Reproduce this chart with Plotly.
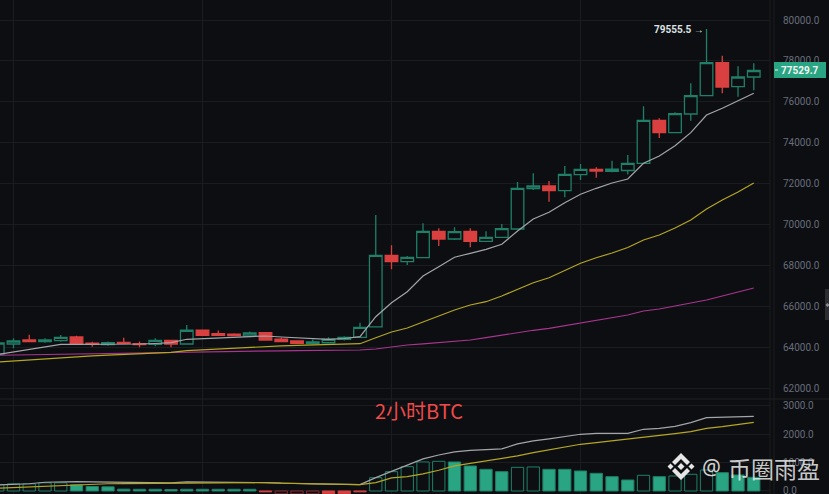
import plotly.graph_objects as go
from plotly.subplots import make_subplots

W, H = 829, 494

BG = "#0d0e11"
GRID = "#1a1c1f"
GREEN = "#1f7f68"
GREEN_FILL = "#2aa583"
RED = "#d9403f"
RED_DARK = "#8a2c2d"
AXIS_TEXT = "#676d7c"

# price candles
opens = [63660, 64153, 64349, 64267, 64315, 64496, 64190, 64120, 64235, 64170,
         64140, 64335, 64153, 64825, 64660, 64630, 64545, 64705, 64385, 64300,
         64170, 64215, 64385, 64480, 64990, 68491, 68180, 68374, 69665, 69289,
         69665, 69176, 69372, 69778, 71750, 71881, 71650, 72433, 72698, 72600,
         72640, 72991, 75094, 74488, 75403, 76298, 77912, 76738, 77212]
closes = [64202, 64300, 64267, 64349, 64480, 64153, 64140, 64218, 64190, 64120,
          64335, 64153, 64825, 64580, 64580, 64560, 64690, 64349, 64267, 64190,
          64250, 64385, 64480, 64970, 68491, 68180, 68394, 69665, 69289, 69646,
          69176, 69372, 69793, 71768, 71881, 71650, 72453, 72698, 72615, 72700,
          72990, 75094, 74488, 75417, 76298, 77912, 76723, 77212, 77529.7]
highs = [64202, 64432, 64608, 64432, 64594, 64559, 64267, 64270, 64460, 64280,
         64430, 64335, 65083, 64825, 64810, 64680, 64760, 64705, 64460, 64300,
         64370, 64480, 64530, 65195, 70462, 68981, 68457, 70057, 69812, 69860,
         69812, 69665, 70022, 72077, 72502, 72125, 72859, 72957, 72796, 73120,
         73400, 75779, 75192, 75485, 76904, 79555.5, 78254, 77735, 77882]
lows = [63660, 63943, 64251, 64218, 64267, 64153, 64022, 64070, 64180, 64000,
        64040, 63990, 64153, 64580, 64570, 64540, 64530, 64349, 64267, 64190,
        64130, 64215, 64330, 64480, 64990, 67807, 68017, 68374, 68946, 69240,
        68883, 69176, 69372, 69778, 71685, 71113, 71328, 72175, 72287, 72550,
        72440, 72991, 74229, 74488, 75075, 76298, 76415, 76249, 76562]

ma_white = [63640, 63762, 63909, 64031, 64139, 64139, 64139, 64153, 64153, 64153,
            64178, 64218, 64384, 64423, 64447, 64481, 64520, 64545, 64496, 64447,
            64398, 64384, 64423, 64510, 65489, 66173, 66711, 67479, 67934, 68394,
            68589, 68785, 69030, 69680, 70267, 70594, 71064, 71475, 71768, 72028,
            72223, 72991, 73348, 73852, 74488, 75354, 75681, 76053, 76415]
ma_yellow = [63273, 63322, 63381, 63444, 63503, 63537, 63571, 63606, 63640, 63674,
             63713, 63747, 63826, 63870, 63909, 63948, 63997, 64041, 64061, 64085,
             64104, 64124, 64143, 64168, 64461, 64740, 64936, 65229, 65488, 65816,
             66061, 66222, 66501, 66829, 67151, 67396, 67738, 68100, 68374, 68604,
             68873, 69240, 69484, 69827, 70218, 70756, 71196, 71587, 72028]
ma_magenta = [63601, 63615, 63625, 63640, 63650, 63664, 63679, 63694, 63708, 63723,
              63738, 63747, 63762, 63772, 63782, 63792, 63801, 63811, 63821, 63831,
              63840, 63850, 63855, 63860, 63909, 64007, 64104, 64163, 64217, 64281,
              64349, 64462, 64594, 64726, 64824, 64921, 65058, 65195, 65327, 65449,
              65572, 65767, 65865, 66012, 66158, 66305, 66501, 66696, 66892]

# volume pane; red bars hang below the zero line
volumes = [228, 252, 252, 288, 288, 217, 158, 147, 65, 60,
           60, 50, 60, 60, 60, 60, 60, -30, -100, -100,
           -100, -100, -100, -30, 468, 680, 856, 1021, 1045, 1021,
           880, 763, 680, 833, 845, 763, 763, 704, 622, 504,
           387, 552, 504, 528, 587, 739, 645, 563, 482]
vol_hollow = [0, 1, 2, 3, 4, 24, 25, 26, 27, 28, 33, 34, 41, 43, 44, 45]
vol_red_hollow = [18, 19, 20]
vol_ma_white = [213, 236, 254, 307, 330, 330, 319, 307, 295, 290,
                285, 283, 319, 319, 319, 319, 319, 295, 272, 260,
                248, 240, 232, 225, 471, 682, 893, 1128, 1268, 1374,
                1433, 1456, 1480, 1656, 1761, 1832, 1914, 1996, 2031, 2031,
                2031, 2172, 2207, 2277, 2406, 2582, 2606, 2629, 2629]
vol_ma_yellow = [96, 120, 140, 160, 178, 210, 248, 255, 262, 268,
                 270, 272, 295, 295, 295, 295, 295, 295, 272, 262,
                 250, 240, 232, 225, 295, 460, 506, 600, 729, 881,
                 975, 1057, 1139, 1233, 1351, 1445, 1538, 1644, 1703, 1761,
                 1820, 1879, 1937, 2019, 2090, 2207, 2266, 2348, 2418]

price_ticks = [62000, 64000, 66000, 68000, 70000, 72000, 74000, 76000, 78000, 80000]
vol_ticks = [0, 1000, 2000, 3000]
x_grid = [1, 13, 25, 37, 49]

xs = list(range(len(opens)))


def px(x):
    return x / W


def py(y):
    return 1 - y / H


def diamond_path(cx, cy, r):
    return (f"M {px(cx - r)} {py(cy)} L {px(cx)} {py(cy - r)} "
            f"L {px(cx + r)} {py(cy)} L {px(cx)} {py(cy + r)} Z")


def chevron_path(cx, tip_y, direction):
    # direction -1 = pointing up, 1 = pointing down
    pts = [(cx - 9, tip_y - direction * 9), (cx, tip_y), (cx + 9, tip_y - direction * 9),
           (cx + 6, tip_y - direction * 12), (cx, tip_y - direction * 6), (cx - 6, tip_y - direction * 12)]
    return "M " + " L ".join(f"{px(a)} {py(b)}" for a, b in pts) + " Z"


def label(x, y, text, color, size, family=None, xref="paper", yref="paper", **kw):
    font = dict(color=color, size=size)
    if family:
        font["family"] = family
    fig.add_annotation(xref=xref, yref=yref, x=x, y=y, text=text, showarrow=False,
                       xanchor=kw.pop("xanchor", "center"), yanchor="middle", font=font, **kw)


fig = make_subplots(rows=2, cols=1, shared_xaxes=True, vertical_spacing=0,
                    row_heights=[399 / 494, 95 / 494])

fig.add_trace(go.Candlestick(
    x=xs, open=opens, high=highs, low=lows, close=closes,
    increasing=dict(line=dict(color=GREEN, width=1.3), fillcolor=BG),
    decreasing=dict(line=dict(color=RED, width=1.3), fillcolor=RED),
    whiskerwidth=0,
), row=1, col=1)

fig.add_trace(go.Scatter(x=xs, y=ma_magenta, mode="lines",
                         line=dict(color="#a8358f", width=1.2)), row=1, col=1)
fig.add_trace(go.Scatter(x=xs, y=ma_yellow, mode="lines",
                         line=dict(color="#b5a623", width=1.2)), row=1, col=1)
fig.add_trace(go.Scatter(x=xs, y=ma_white, mode="lines",
                         line=dict(color="#a3a5a8", width=1.2)), row=1, col=1)

# volume bars: filled and hollow in each colour
bar_fill, bar_line = [], []
for i, v in enumerate(volumes):
    if v >= 0:
        bar_line.append(GREEN)
        bar_fill.append(BG if i in vol_hollow else GREEN_FILL)
    else:
        bar_line.append(RED_DARK if i in vol_red_hollow else RED)
        bar_fill.append(BG if i in vol_red_hollow else RED)
fig.add_trace(go.Bar(x=xs, y=volumes, width=0.78,
                     marker=dict(color=bar_fill, line=dict(color=bar_line, width=1))),
              row=2, col=1)
fig.add_trace(go.Scatter(x=xs, y=vol_ma_white, mode="lines",
                         line=dict(color="#a3a5a8", width=1.2)), row=2, col=1)
fig.add_trace(go.Scatter(x=xs, y=vol_ma_yellow, mode="lines",
                         line=dict(color="#b5a623", width=1.2)), row=2, col=1)

fig.update_layout(
    width=W, height=H,
    margin=dict(l=0, r=0, t=0, b=0, autoexpand=False),
    paper_bgcolor=BG, plot_bgcolor=BG,
    showlegend=False,
    boxgap=0.2, boxgroupgap=0,
    xaxis_rangeslider_visible=False,
    font=dict(family="Roboto, Noto Sans, sans-serif", color=AXIS_TEXT, size=10),
)

fig.update_xaxes(range=[0.143, 49.03], tickvals=x_grid, showticklabels=False,
                 showgrid=True, gridcolor=GRID, gridwidth=1, zeroline=False,
                 showline=False, ticks="", domain=[0, 770 / W], rangeslider_visible=False)
fig.update_yaxes(side="right", range=[61463, 80978], tickvals=price_ticks,
                 tickformat=".1f", showgrid=True, gridcolor=GRID, zeroline=False,
                 showline=False, ticks="", ticklabelstandoff=12, row=1, col=1)
fig.update_yaxes(side="right", range=[-106, 3238], tickvals=vol_ticks,
                 tickformat=".1f", showgrid=True, gridcolor=GRID, zeroline=False,
                 showline=False, ticks="", ticklabelstandoff=12,
                 ticklabeloverflow="allow", row=2, col=1)

# pane separators
fig.add_shape(type="line", xref="paper", yref="paper", x0=0, x1=1, y0=py(399), y1=py(399),
              line=dict(color="#1e2023", width=1))
for sep_x in (770, 774):
    fig.add_shape(type="line", xref="paper", yref="paper", x0=px(sep_x), x1=px(sep_x), y0=0, y1=1,
                  line=dict(color="#1a1c1f", width=1))

# last price tag
fig.add_shape(type="rect", xref="paper", yref="paper", x0=px(774), x1=px(826),
              y0=py(78), y1=py(62), fillcolor=GREEN_FILL, line=dict(width=0))
fig.add_shape(type="line", xref="paper", yref="paper", x0=px(775), x1=px(778),
              y0=py(70), y1=py(70), line=dict(color="#f2f5f4", width=1))
label(px(800), closes[-1], "<b>77529.7</b>", "#f2f5f4", 10, yref="y")

# high marker
label(45, highs[45], "<b>79555.5</b> →", "#dfe3e6", 10, xref="x", yref="y", xanchor="right", xshift=-1)

# panel handle at the right edge
fig.add_shape(type="rect", xref="paper", yref="paper", x0=px(825), x1=1,
              y0=py(320), y1=py(289), fillcolor="#2b2d31", line=dict(width=0))
fig.add_shape(type="path", xref="paper", yref="paper", path=diamond_path(827.5, 305, 2),
              fillcolor="#8a8d92", line=dict(width=0))

# overlay caption
label(px(419), py(410), "2小时BTC", "#ee4a4a", 20, family="Noto Sans CJK SC")

# watermark: logo and account name
for path in (diamond_path(681, 466.5, 3.5), diamond_path(670.5, 466.5, 3), diamond_path(691.5, 466.5, 3),
             chevron_path(681, 453, -1), chevron_path(681, 480, 1)):
    fig.add_shape(type="path", xref="paper", yref="paper", path=path,
                  fillcolor="#e6e6e6", line=dict(width=0))
label(px(711), py(467), "@", "rgba(235,235,235,0.9)", 21, family="Noto Sans")
label(px(773.5), py(468), "币圈雨盈", "rgba(235,235,235,0.85)", 23, family="Noto Sans CJK SC")

fig.write_html("out.html", config={"displayModeBar": False},
               post_script="document.body.style.margin='0';document.body.style.overflow='hidden';")
